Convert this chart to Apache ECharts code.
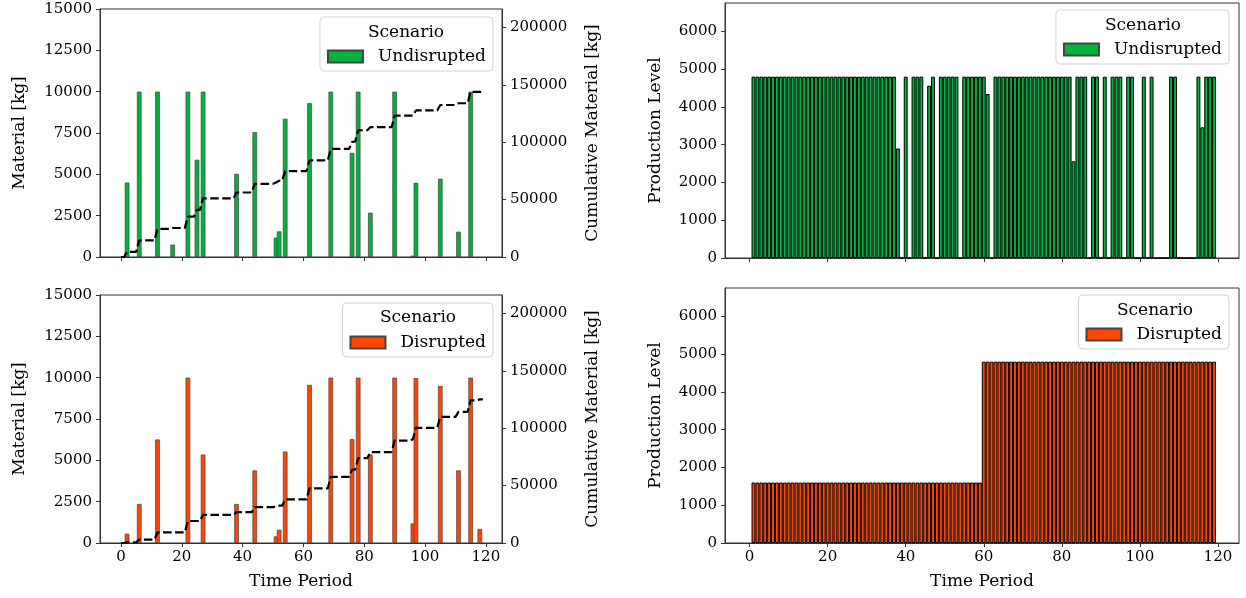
<!DOCTYPE html>
<html>
<head>
<meta charset="utf-8">
<title>Material and production level by scenario</title>
<script src="https://cdn.jsdelivr.net/npm/echarts@6.0.0/dist/echarts.min.js"></script>
<style>
  html, body { margin: 0; padding: 0; background: #fff; }
  #chart-container { width: 1246px; height: 598px; }
</style>
</head>
<body>
<div id="chart-container"></div>
<script>
const FONT = "'DejaVu Serif', serif";
const GREEN = '#00b33c';
const ORANGE = '#ff4500';

// tick labels
const periodTicks = [0, 20, 40, 60, 80, 100, 120];
const materialTicks = [0, 2500, 5000, 7500, 10000, 12500, 15000];
const cumulativeTicks = [0, 50000, 100000, 150000, 200000];
const productionTicks = [0, 1000, 2000, 3000, 4000, 5000, 6000];

// material ordered [kg], only the periods with an order
const undisruptedPeriods = [2, 6, 12, 17, 22, 25, 27, 38, 44, 51, 52, 54, 62, 69, 76, 78, 82, 90, 96, 97, 105, 111, 115];
const undisruptedMaterial = [4500, 10000, 10000, 750, 10000, 5880, 10000, 5030, 7550, 1170, 1550, 8360, 9300, 10000, 6300, 10000, 2680, 10000, 80, 4490, 4730, 1530, 10000];

const disruptedPeriods = [2, 6, 12, 22, 27, 38, 44, 51, 52, 54, 62, 69, 76, 78, 82, 90, 96, 97, 105, 111, 115, 118];
const disruptedMaterial = [560, 2360, 6260, 10000, 5350, 2360, 4390, 400, 800, 5530, 9560, 10000, 6280, 10000, 5350, 10000, 1180, 9970, 9500, 4390, 10000, 850];

// production level, periods 1..119
const undisruptedProduction = [
  4800, 4800, 4800, 4800, 4800, 4800, 4800, 4800, 4800, 4800,
  4800, 4800, 4800, 4800, 4800, 4800, 4800, 4800, 4800, 4800,
  4800, 4800, 4800, 4800, 4800, 4800, 4800, 4800, 4800, 4800,
  4800, 4800, 4800, 4800, 4800, 4800, 4800, 2900, 0, 4800,
  0, 4800, 4800, 4800, 0, 4560, 4800, 0, 4800, 4800,
  4800, 4800, 4800, 0, 4800, 4800, 4800, 4800, 4800, 4800,
  4340, 0, 4800, 4800, 4800, 4800, 4800, 4800, 4800, 4800,
  4800, 4800, 4800, 4800, 4800, 4800, 4800, 4800, 4800, 4800,
  4800, 4800, 2560, 4800, 4800, 4800, 0, 4800, 4800, 0,
  4800, 0, 4800, 4800, 4800, 0, 4800, 4800, 0, 0,
  4800, 0, 4800, 0, 0, 0, 0, 4800, 4800, 0,
  0, 0, 0, 0, 4800, 3460, 4800, 4800, 4800
];
const disruptedProduction = [
  1600, 1600, 1600, 1600, 1600, 1600, 1600, 1600, 1600, 1600,
  1600, 1600, 1600, 1600, 1600, 1600, 1600, 1600, 1600, 1600,
  1600, 1600, 1600, 1600, 1600, 1600, 1600, 1600, 1600, 1600,
  1600, 1600, 1600, 1600, 1600, 1600, 1600, 1600, 1600, 1600,
  1600, 1600, 1600, 1600, 1600, 1600, 1600, 1600, 1600, 1600,
  1600, 1600, 1600, 1600, 1600, 1600, 1600, 1600, 1600, 4800,
  4800, 4800, 4800, 4800, 4800, 4800, 4800, 4800, 4800, 4800,
  4800, 4800, 4800, 4800, 4800, 4800, 4800, 4800, 4800, 4800,
  4800, 4800, 4800, 4800, 4800, 4800, 4800, 4800, 4800, 4800,
  4800, 4800, 4800, 4800, 4800, 4800, 4800, 4800, 4800, 4800,
  4800, 4800, 4800, 4800, 4800, 4800, 4800, 4800, 4800, 4800,
  4800, 4800, 4800, 4800, 4800, 4800, 4800, 4800, 4800
];

// running total of the orders, period 0 to the last period
const runningTotal = (periods, values, last) => {
  const byPeriod = new Map(periods.map((p, i) => [p, values[i]]));
  const out = [];
  let total = 0;
  for (let t = 0; t <= last; t++) {
    total += byPeriod.get(t) || 0;
    out.push([t, total]);
  }
  return out;
};
const lastPeriod = undisruptedProduction.length;

const txt = (size) => ({ fontSize: size, color: '#000', fontFamily: FONT });

const timeAxis = (grid, min, max, withLabels) => ({
  type: 'value', gridIndex: grid, min: min, max: max,
  name: withLabels ? 'Time Period' : '',
  nameLocation: 'middle', nameGap: 30,
  nameTextStyle: txt(17),
  axisLine: { show: true, onZero: false, lineStyle: { color: '#333' } },
  axisTick: { show: true, customValues: periodTicks, length: 4, lineStyle: { color: '#333' } },
  axisLabel: Object.assign({ show: withLabels, customValues: periodTicks, margin: 7, formatter: v => String(v) }, txt(15)),
  splitLine: { show: false }
});

const valueAxis = (grid, max, ticks, name, gap, side) => ({
  type: 'value', gridIndex: grid, min: 0, max: max,
  position: side,
  name: name, nameLocation: 'middle', nameRotate: 90, nameGap: gap,
  nameTextStyle: txt(17),
  axisLine: { show: true, onZero: false, lineStyle: { color: '#333' } },
  axisTick: { show: true, customValues: ticks, length: 4, lineStyle: { color: '#333' } },
  axisLabel: Object.assign({ customValues: ticks, margin: 8, formatter: v => String(v) }, txt(15)),
  splitLine: { show: false }
});

const legendBox = (name, right, top) => ({
  data: [name], right: right, top: top, orient: 'vertical',
  icon: 'rect',
  padding: [31, 7, 6, 7],
  itemWidth: 35, itemHeight: 12,
  backgroundColor: 'rgba(255,255,255,0.8)',
  borderColor: '#d0d0d0', borderWidth: 1, borderRadius: 4,
  textStyle: Object.assign({ padding: [0, 0, 0, 10] }, txt(17)),
  selectedMode: false
});

const legendTitle = (x, y) => ({
  type: 'text', x: x, y: y, z: 100,
  style: { text: 'Scenario', font: '17px ' + FONT, fill: '#000', textAlign: 'center', textVerticalAlign: 'middle' }
});

const cumLine = (x, y, data) => ({
  name: 'Cumulative', type: 'line', xAxisIndex: x, yAxisIndex: y,
  data: data, showSymbol: false, z: 5,
  lineStyle: { color: '#000', width: 2.2, type: [8.5, 3.5] }
});

const myChart = echarts.init(document.getElementById('chart-container'));
const option = {
  animation: false,
  grid: [
    { left: 100, top: 9, width: 402, height: 248, show: true, borderColor: '#333', borderWidth: 1 },
    { left: 100, top: 295, width: 402, height: 248, show: true, borderColor: '#333', borderWidth: 1 },
    { left: 725, top: 3, width: 514, height: 255, show: true, borderColor: '#333', borderWidth: 1 },
    { left: 725, top: 288, width: 514, height: 255, show: true, borderColor: '#333', borderWidth: 1 }
  ],
  xAxis: [
    timeAxis(0, -6.9, 125.3, false),
    timeAxis(1, -6.9, 125.3, true),
    timeAxis(2, -6.3, 125.4, false),
    timeAxis(3, -6.3, 125.4, true)
  ],
  yAxis: [
    valueAxis(0, 15000, materialTicks, 'Material [kg]', 72, 'left'),
    valueAxis(0, 216000, cumulativeTicks, 'Cumulative Material [kg]', 82, 'right'),
    valueAxis(1, 15000, materialTicks, 'Material [kg]', 72, 'left'),
    valueAxis(1, 216000, cumulativeTicks, 'Cumulative Material [kg]', 82, 'right'),
    valueAxis(2, 6750, productionTicks, 'Production Level', 61, 'left'),
    valueAxis(3, 6750, productionTicks, 'Production Level', 61, 'left')
  ],
  legend: [
    legendBox('Undisrupted', 753, 17),
    legendBox('Disrupted', 753, 303),
    legendBox('Undisrupted', 17, 10),
    legendBox('Disrupted', 17, 295)
  ],
  graphic: [
    legendTitle(406, 33),
    legendTitle(418, 318),
    legendTitle(1143, 26),
    legendTitle(1155, 311)
  ],
  series: [
    {
      name: 'Undisrupted', type: 'bar', xAxisIndex: 0, yAxisIndex: 0,
      data: undisruptedPeriods.map((p, i) => [p, undisruptedMaterial[i]]),
      barWidth: 4.6,
      itemStyle: { color: GREEN, borderColor: '#444', borderWidth: 0.7 }
    },
    cumLine(0, 1, runningTotal(undisruptedPeriods, undisruptedMaterial, lastPeriod)),
    {
      name: 'Disrupted', type: 'bar', xAxisIndex: 1, yAxisIndex: 2,
      data: disruptedPeriods.map((p, i) => [p, disruptedMaterial[i]]),
      barWidth: 4.6,
      itemStyle: { color: ORANGE, borderColor: '#444', borderWidth: 0.7 }
    },
    cumLine(1, 3, runningTotal(disruptedPeriods, disruptedMaterial, lastPeriod)),
    {
      name: 'Undisrupted', type: 'bar', xAxisIndex: 2, yAxisIndex: 4,
      data: undisruptedProduction.map((v, i) => [i + 1, v]),
      barWidth: 3.9,
      itemStyle: { color: GREEN, borderColor: '#000', borderWidth: 1 }
    },
    {
      name: 'Disrupted', type: 'bar', xAxisIndex: 3, yAxisIndex: 5,
      data: disruptedProduction.map((v, i) => [i + 1, v]),
      barWidth: 3.9,
      itemStyle: { color: ORANGE, borderColor: '#000', borderWidth: 1 }
    }
  ]
};
myChart.setOption(option);
</script>
</body>
</html>
